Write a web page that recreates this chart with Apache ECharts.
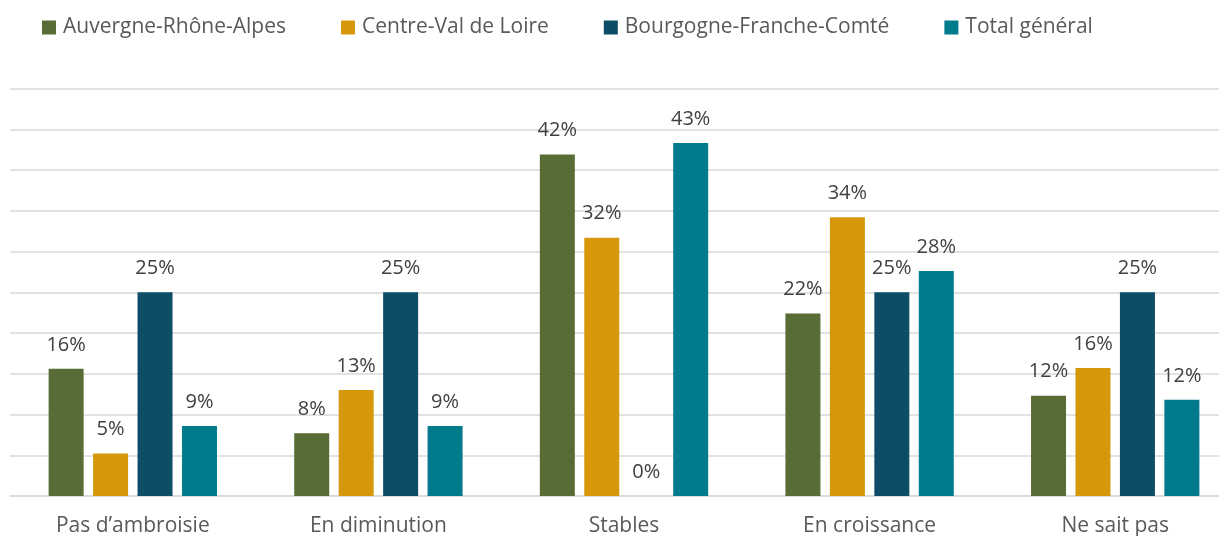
<!DOCTYPE html>
<html><head><meta charset="utf-8">
<script src="https://cdn.jsdelivr.net/npm/echarts@6/dist/echarts.min.js"></script>
<style>html,body{margin:0;padding:0;background:#fff;overflow:hidden}#c{width:1238px;height:536px}</style>
</head><body><div id="c"></div>
<script>
var categories = ["Pas d\u2019ambroisie", "En diminution", "Stables", "En croissance", "Ne sait pas"];
var seriesNames = ["Auvergne-Rh\u00f4ne-Alpes", "Centre-Val de Loire", "Bourgogne-Franche-Comt\u00e9", "Total g\u00e9n\u00e9ral"];
var auvergne = [15.6, 7.7, 41.9, 22.4, 12.3];
var centre = [5.2, 13.0, 31.7, 34.2, 15.7];
var bourgogne = [25, 25, 0, 25, 25];
var total = [8.6, 8.6, 43.3, 27.6, 11.8];
var colors = ["#586D35", "#D6970B", "#0D4D66", "#007B8C"];
var FONT = "Open Sans";
var chart = echarts.init(document.getElementById('c'), null, {renderer: 'canvas'});
function mk(name, data, color) {
  return {
    name: name, type: 'bar', data: data, barWidth: 35, barGap: '27%',
    itemStyle: {color: color},
    label: {show: true, position: 'top', distance: 14, color: '#404040', fontSize: 20, fontFamily: FONT,
      formatter: function (p) { return Math.round(p.value) + '%'; }}
  };
}
chart.setOption({
  animation: false,
  textStyle: {fontFamily: FONT},
  legend: {
    top: 12, left: 37, itemWidth: 14, itemHeight: 14, itemGap: 55,
    icon: 'rect',
    textStyle: {color: '#595959', fontSize: 21, fontFamily: FONT, padding: [0, 0, 0, 2]},
    data: seriesNames
  },
  grid: {left: 10, right: 0, top: 88.5, bottom: 40, containLabel: false, outerBoundsMode: 'none'},
  xAxis: {
    type: 'category', data: categories,
    axisLine: {lineStyle: {color: '#D9D9D9', width: 1.5}},
    axisTick: {show: false},
    axisLabel: {color: '#595959', fontSize: 21, fontFamily: FONT, margin: 20}
  },
  yAxis: {
    type: 'value', min: 0, max: 50, interval: 5,
    axisLabel: {show: false}, axisLine: {show: false}, axisTick: {show: false},
    splitLine: {lineStyle: {color: '#D9D9D9', width: 1.5}}
  },
  series: [
    mk(seriesNames[0], auvergne, colors[0]),
    mk(seriesNames[1], centre, colors[1]),
    mk(seriesNames[2], bourgogne, colors[2]),
    mk(seriesNames[3], total, colors[3])
  ]
});
</script></body></html>
